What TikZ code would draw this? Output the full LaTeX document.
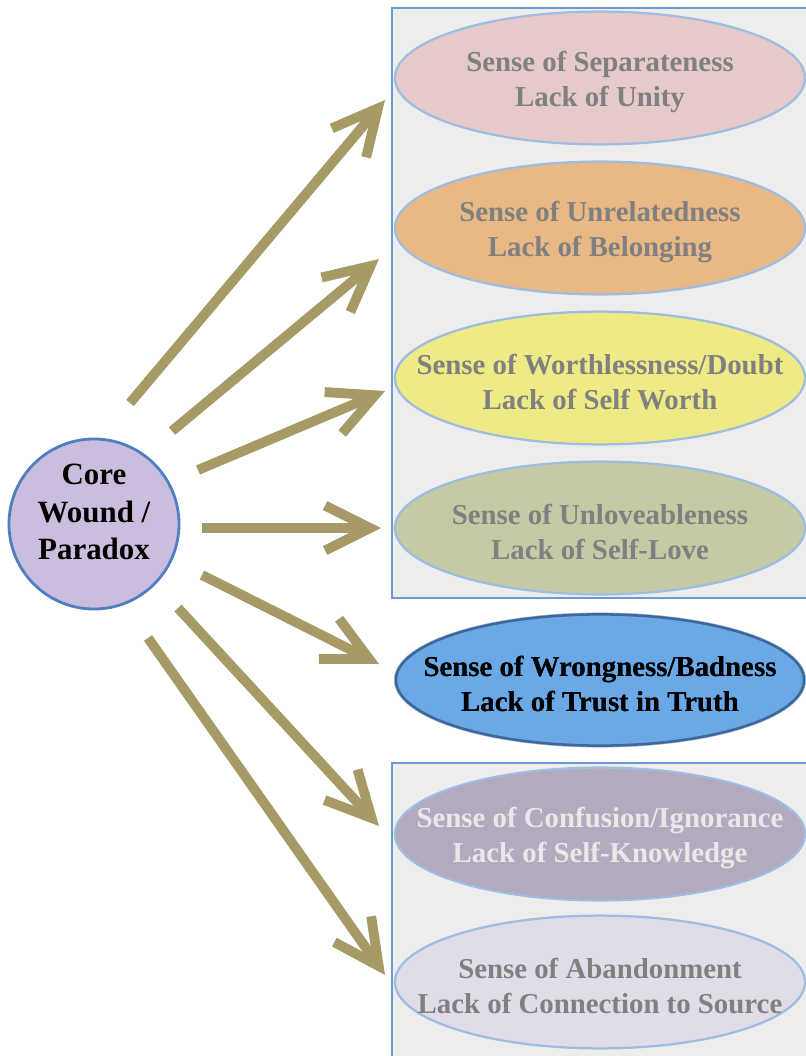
\documentclass[tikz,border=0pt]{standalone}
\usepackage{fontspec}
\setmainfont{Liberation Serif}
\usetikzlibrary{arrows.meta, shapes.geometric}
\definecolor{colive}{HTML}{A69A66}
\definecolor{cpanel}{HTML}{EDEDED}
\definecolor{cframe}{HTML}{6B9BD6}
\definecolor{crim}{HTML}{9FBDE0}
\definecolor{cgrey}{HTML}{808080}
\definecolor{cpale}{HTML}{E8E8E8}
\definecolor{cpink}{HTML}{E6C9C9}
\definecolor{corange}{HTML}{E9B985}
\definecolor{cyellow}{HTML}{EEEA86}
\definecolor{csage}{HTML}{C3CBA5}
\definecolor{cblue}{HTML}{6AA8E6}
\definecolor{cmauve}{HTML}{B3AABF}
\definecolor{clilac}{HTML}{E0DDE8}
\definecolor{chub}{HTML}{CBBDDD}
\definecolor{chubrim}{HTML}{4F7FBF}
\tikzset{
  every picture/.style={x=0.025cm, y=-0.025cm, line width=1.2pt},
  wish/.style={ellipse, draw=crim, fill=#1, line width=1.6pt, minimum width=10.25cm, minimum height=3.32cm, inner sep=0pt},
  wishtext/.style={align=center, inner sep=0pt, yshift=-3pt, font=\fontsize{20.5}{25}\selectfont\bfseries},
  hub/.style={circle, draw=chubrim, fill=chub, line width=2pt, minimum size=4.25cm, inner sep=0pt},
  hubtext/.style={align=center, inner sep=0pt, font=\fontsize{22}{26.5}\selectfont\bfseries},
  panel/.style={draw=cframe, fill=cpanel, line width=1.1pt},
  ray/.style={-{Straight Barb[length=32pt, width=32pt]}, draw=colive, line width=7pt},
}

\begin{document}
\begin{tikzpicture}
  \useasboundingbox (0,0) rectangle (806,1056);
  \clip (0,0) rectangle (806,1056);
  \draw[panel] (392,8) rectangle (830,598);
  \draw[panel] (392,763) rectangle (830,1090);
  \foreach \i/\y/\fc/\tc/\top/\bot in {1/78/cpink/cgrey/{Sense of Separateness}/{Lack of Unity},
                                     2/228/corange/cgrey/{Sense of Unrelatedness}/{Lack of Belonging},
                                     3/378/cyellow/cgrey/{Sense of Worthlessness/Doubt}/{Lack of Self Worth},
                                     4/528/csage/cgrey/{Sense of Unloveableness}/{Lack of Self-Love},
                                     5/680/cblue/black/{Sense of Wrongness/Badness}/{Lack of Trust in Truth},
                                     6/834/cmauve/cpale/{Sense of Confusion/Ignorance}/{Lack of Self-Knowledge},
                                     7/982/clilac/cgrey/{Sense of Abandonment}/{Lack of Connection to Source}} {
    \node[wish=\fc] (e\i) at (600,\y) {};
    \node[wishtext, text=\tc] (l\i) at (e\i) {\top\\\bot};
  }
  \draw[line width=1.8pt, draw=black!20!chubrim] (e5.center) ellipse [x radius=5.1cm, y radius=1.64cm];
  \node[wishtext] (l5) at (e5) {Sense of Wrongness/Badness\\Lack of Trust in Truth};
  \node[hub] (core) at (94,524) {};
  \node[hubtext] (corelbl) at (94,512) {Core\\Wound /\\Paradox};
  \foreach \i/\sx/\sy/\tx/\ty in {1/130/403/385/100, 2/172/431/379/259, 3/198/470/385/391, 4/202/528/381/528,
                                  5/202/575/379/664, 6/178/608/379/826, 7/148/638/385/975} {
    \coordinate (s\i) at (\sx,\sy);
    \coordinate (t\i) at (\tx,\ty);
    \draw[ray] (s\i) -- (t\i);
  }
\end{tikzpicture}
\end{document}
